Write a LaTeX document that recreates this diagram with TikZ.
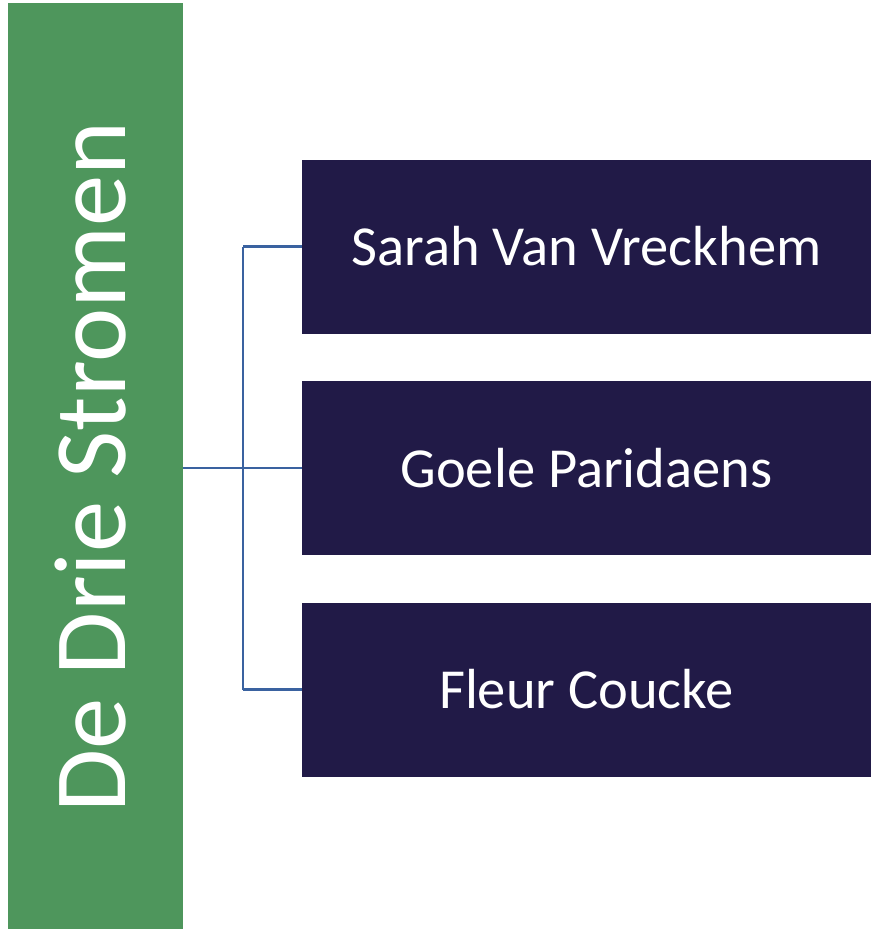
\documentclass[tikz,border=0pt]{standalone}
\usepackage{fontspec}
\setmainfont{Carlito}
\definecolor{grn}{HTML}{4E965C}
\definecolor{navy}{HTML}{211A47}
\definecolor{lnk}{HTML}{3A62A0}
\begin{document}
\begin{tikzpicture}[x=0.75pt,y=-0.75pt,
  parent/.style={fill=grn,draw=none,inner sep=0pt,minimum width=131.25pt,minimum height=694.5pt},
  child/.style={fill=navy,draw=none,inner sep=0pt,minimum width=426.75pt,minimum height=130.5pt,text=white,font=\fontsize{42.4}{48}\selectfont},
  conn/.style={draw=lnk,line width=1.7pt}]
\useasboundingbox (0,0) rectangle (871,929);
\node[parent] (p) at (95.5,466) {};
\node[rotate=90,text=white,font=\fontsize{77}{88}\selectfont] (pt) at (91,467) {De Drie Stromen};
\node[child] (c1) at (586.5,246.5) {Sarah Van Vreckhem};
\node[child] (c2) at (586.5,468) {Goele Paridaens};
\node[child] (c3) at (586.5,689.5) {Fleur Coucke};
\coordinate (j) at (243,468);
\draw[conn] (p.east |- j) -- (j);
\draw[conn] (j |- c1.west) -- (j |- c3.west);
\draw[conn] (j |- c1.west) -- (c1.west);
\draw[conn] (j |- c2.west) -- (c2.west);
\draw[conn] (j |- c3.west) -- (c3.west);
\end{tikzpicture}
\end{document}
